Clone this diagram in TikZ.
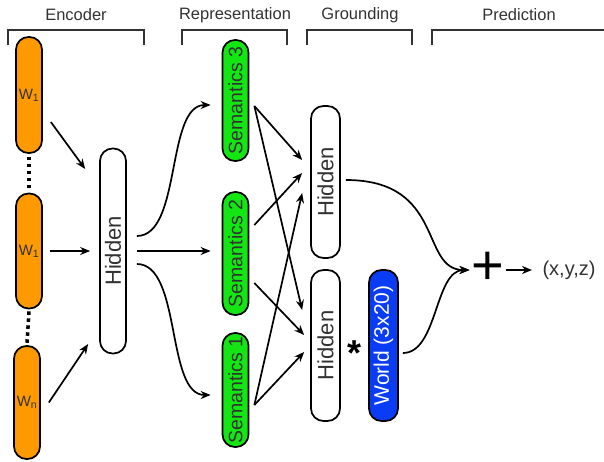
\documentclass[tikz,border=0pt]{standalone}
\usepackage{fontspec}
\setmainfont{Liberation Sans}
\usetikzlibrary{arrows.meta}

\definecolor{wordorange}{RGB}{255,153,0}
\definecolor{semgreen}{RGB}{20,230,20}
\definecolor{worldblue}{RGB}{10,60,245}
\definecolor{txtgray}{RGB}{50,50,50}

\tikzset{
    box/.style={draw=black, line width=1.7pt, rounded corners=12.5pt, minimum width=26pt, inner sep=0pt},
    word/.style={box, fill=wordorange, font=\fontsize{15}{18}\selectfont, text=txtgray},
    sem/.style={box, fill=semgreen},
    hidden/.style={box, fill=white},
    world/.style={box, fill=worldblue, minimum width=29pt},
    vlabel/.style={rotate=90, font=\fontsize{19.5}{23}\selectfont, text=txtgray},
    hlabel/.style={vlabel, font=\fontsize{22}{26}\selectfont},
    header/.style={font=\fontsize{16.5}{20}\selectfont, text=txtgray},
    bracket/.style={draw=txtgray, line width=1.6pt},
    link/.style={->, line width=1.7pt},
    dots/.style={line width=3.5pt, dash pattern=on 3.5pt off 3.5pt},
}

\begin{document}
\begin{tikzpicture}[x=1pt, y=-1pt, >={Stealth[length=10pt,width=8pt]}]
    \useasboundingbox (0,0) rectangle (604,461);

    % headers
    \node[header] (enc) at (76,15) {Encoder};
    \node[header] (rep) at (235,15) {Representation};
    \node[header] (grd) at (360,15) {Grounding};
    \node[header] (pred) at (519,15) {Prediction};
    \draw[bracket] (8,45) |- (144,30) -- (144,45);
    \draw[bracket] (182,45) |- (287,30) -- (287,45);
    \draw[bracket] (307,45) |- (412,30) -- (412,45);
    \draw[bracket] (432,45) |- (604,30);

    % encoder
    \node[word, minimum height=116pt] (w1a) at (29,95) {W\textsubscript{1}};
    \node[word, minimum height=115pt] (w1b) at (29,251) {W\textsubscript{1}};
    \node[word, minimum height=113pt] (wn) at (27,402.5) {W\textsubscript{n}};
    \draw[dots] ([yshift=-3pt]w1a.south) -- ([yshift=3pt]w1b.north);
    \draw[dots] ([yshift=-2pt]w1b.south) -- ([yshift=2pt]wn.north);
    \node[hidden, minimum height=205pt, label={[hlabel]center:Hidden}] (hid) at (113,251) {};
    \draw[link] ([shift={(8,27)}]w1a.east) -- ([shift={(-14,-82)}]hid.west);
    \draw[link, shorten <=7pt, shorten >=9pt] (w1b.east) -- (hid.west);
    \draw[link] ([shift={(8,0)}]wn.east) -- ([shift={(-11,93)}]hid.west);

    % representation
    \node[sem, minimum height=121pt, label={[vlabel]center:Semantics 3}] (sem3) at (235.5,100.5) {};
    \node[sem, minimum height=123pt, label={[vlabel]center:Semantics 2}] (sem2) at (235.5,253.5) {};
    \node[sem, minimum height=114pt, label={[vlabel]center:Semantics 1}] (sem1) at (235.5,390) {};
    \draw[link] ([shift={(10,-15)}]hid.east) .. controls +(45,0) and +(-45,0) .. ([shift={(-11,4.5)}]sem3.west);
    \draw[link, shorten <=10pt, shorten >=11pt] (hid.east) -- (hid.east -| sem2.west);
    \draw[link] ([shift={(10,13)}]hid.east) .. controls +(45,0) and +(-45,0) .. ([shift={(-11,5)}]sem1.west);

    % grounding
    \node[hidden, minimum width=29pt, minimum height=152pt, label={[hlabel]center:Hidden}] (hidt) at (325.5,182) {};
    \node[hidden, minimum width=29pt, minimum height=151pt, label={[hlabel]center:Hidden}] (hidb) at (325.5,345.5) {};
    \node[world, minimum height=151pt, label={[vlabel, font=\fontsize{21}{25}\selectfont, text=white]center:World (3x20)}] (world) at (383.5,345.5) {};
    \node[font=\bfseries\fontsize{36}{40}\selectfont, anchor=base] (star) at (354,365) {*};
    \draw[link] ([shift={(5,5.5)}]sem3.east) -- ([shift={(-8,-22)}]hidt.west);
    \draw[link] ([shift={(5,5.5)}]sem3.east) -- ([shift={(-8,-35.5)}]hidb.west);
    \draw[link] ([shift={(5,-28.5)}]sem2.east) -- ([shift={(-8,-9)}]hidt.west);
    \draw[link] ([shift={(5,29.5)}]sem2.east) -- ([shift={(-6,-10.5)}]hidb.west);
    \draw[link] ([shift={(5,15)}]sem1.east) -- ([shift={(-8,11)}]hidt.west);
    \draw[link] ([shift={(5,15)}]sem1.east) -- ([shift={(-6,6.5)}]hidb.west);

    % prediction
    \node[font=\fontsize{56}{60}\selectfont] (plus) at (487.5,268) {+};
    \node[font=\fontsize{20}{24}\selectfont, text=txtgray] (xyz) at (569,270) {(x,y,z)};
    \draw[link] ([shift={(5,-2)}]hidt.east) .. controls +(100,0) and +(-50,0) .. ([shift={(-18,2)}]plus.center);
    \draw[link] ([shift={(4,7.5)}]world.east) .. controls +(35,0) and +(-35,0) .. ([shift={(-18,2)}]plus.center);
    \draw[link] ([shift={(18,2)}]plus.center) -- ([xshift=-7pt]xyz.west);
\end{tikzpicture}
\end{document}
